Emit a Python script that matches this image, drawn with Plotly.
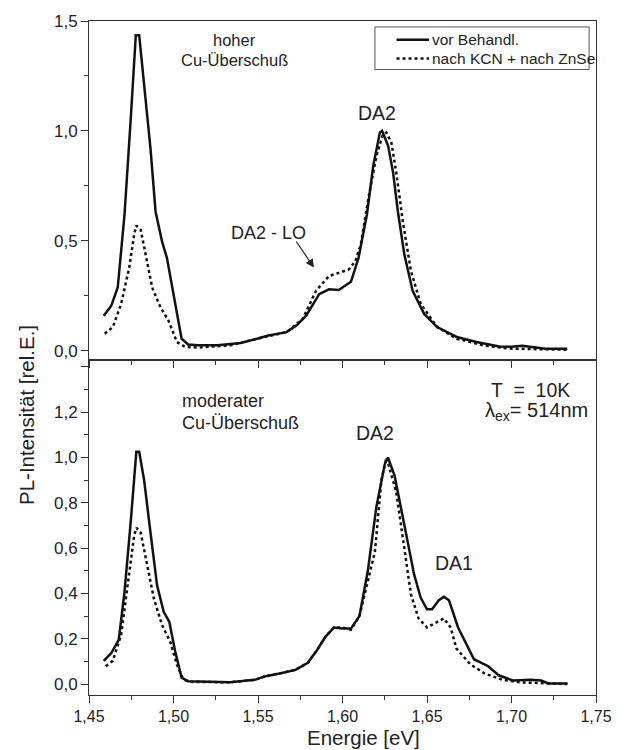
import plotly.graph_objects as go

# ---------------- data ----------------
# top panel: "hoher Cu-Überschuß"
top_vor_E = [1.4587, 1.4632, 1.4670, 1.4710, 1.4748, 1.4777, 1.4797, 1.4826, 1.4864, 1.4894,
             1.4932, 1.4961, 1.5010, 1.5048, 1.5087, 1.5145, 1.5262, 1.5397, 1.5494, 1.5562,
             1.5669, 1.5727, 1.5785, 1.5862, 1.5920, 1.5978, 1.6050, 1.6095, 1.6144, 1.6182,
             1.6221, 1.6234, 1.6270, 1.6299, 1.6328, 1.6366, 1.6415, 1.6483, 1.6560, 1.6676,
             1.6793, 1.6928, 1.7000, 1.7064, 1.7120, 1.7200, 1.7330]
top_vor_I = [0.159, 0.204, 0.287, 0.617, 1.067, 1.435, 1.435, 1.218, 0.918, 0.632,
             0.497, 0.422, 0.212, 0.054, 0.028, 0.024, 0.024, 0.035, 0.054, 0.069,
             0.084, 0.114, 0.159, 0.257, 0.279, 0.276, 0.313, 0.422, 0.617, 0.842,
             0.992, 1.000, 0.932, 0.812, 0.632, 0.437, 0.272, 0.167, 0.107, 0.062,
             0.039, 0.019, 0.017, 0.022, 0.016, 0.008, 0.008]

top_nach_E = [1.4593, 1.4641, 1.4690, 1.4738, 1.4767, 1.4780, 1.4806, 1.4835, 1.4874, 1.4923,
              1.4970, 1.5020, 1.5068, 1.5145, 1.5337, 1.5494, 1.5669, 1.5765, 1.5843, 1.5920,
              1.6037, 1.6076, 1.6108, 1.6153, 1.6201, 1.6240, 1.6260, 1.6289, 1.6318, 1.6357,
              1.6405, 1.6463, 1.6560, 1.6676, 1.6831, 1.6986, 1.7150, 1.7330]
top_nach_I = [0.077, 0.107, 0.212, 0.377, 0.527, 0.569, 0.550, 0.437, 0.287, 0.197,
              0.137, 0.039, 0.017, 0.014, 0.024, 0.054, 0.084, 0.144, 0.272, 0.339,
              0.369, 0.407, 0.482, 0.692, 0.887, 0.985, 0.992, 0.947, 0.812, 0.587,
              0.362, 0.212, 0.107, 0.054, 0.024, 0.009, 0.006, 0.004]

# bottom panel: "moderater Cu-Überschuß"
bot_vor_E = [1.4587, 1.4632, 1.4676, 1.4710, 1.4748, 1.4767, 1.4780, 1.4797, 1.4826, 1.4864,
             1.4903, 1.4942, 1.4975, 1.5010, 1.5048, 1.5087, 1.5260, 1.5335, 1.5481, 1.5544,
             1.5628, 1.5722, 1.5795, 1.5848, 1.5900, 1.5950, 1.6000, 1.6050, 1.6100, 1.6150,
             1.6200, 1.6250, 1.6269, 1.6308, 1.6347, 1.6386, 1.6424, 1.6463, 1.6500, 1.6530,
             1.6570, 1.6600, 1.6630, 1.6684, 1.6778, 1.6862, 1.6924, 1.7008, 1.7113, 1.7176,
             1.7218, 1.7332]
bot_vor_I = [0.103, 0.137, 0.195, 0.406, 0.726, 0.923, 1.025, 1.025, 0.901, 0.668,
             0.435, 0.319, 0.275, 0.144, 0.028, 0.013, 0.010, 0.008, 0.019, 0.035,
             0.047, 0.063, 0.094, 0.149, 0.210, 0.250, 0.245, 0.245, 0.300, 0.500,
             0.780, 0.970, 1.000, 0.920, 0.774, 0.629, 0.483, 0.381, 0.330, 0.330,
             0.370, 0.385, 0.370, 0.250, 0.110, 0.079, 0.039, 0.016, 0.019, 0.016,
             0.003, 0.003]

bot_nach_E = [1.4599, 1.4641, 1.4690, 1.4738, 1.4767, 1.4780, 1.4806, 1.4845, 1.4884, 1.4932,
              1.4980, 1.5020, 1.5058, 1.5106, 1.5335, 1.5481, 1.5544, 1.5628, 1.5722, 1.5795,
              1.5848, 1.5900, 1.5950, 1.6000, 1.6050, 1.6100, 1.6150, 1.6192, 1.6230, 1.6260,
              1.6318, 1.6347, 1.6376, 1.6405, 1.6450, 1.6500, 1.6550, 1.6600, 1.6640, 1.6674,
              1.6757, 1.6841, 1.6945, 1.7050, 1.7330]
bot_nach_I = [0.079, 0.103, 0.217, 0.493, 0.654, 0.690, 0.668, 0.523, 0.377, 0.261,
              0.188, 0.086, 0.020, 0.010, 0.008, 0.019, 0.035, 0.047, 0.063, 0.094,
              0.149, 0.210, 0.250, 0.250, 0.240, 0.300, 0.450, 0.585, 0.900, 1.000,
              0.847, 0.700, 0.556, 0.396, 0.290, 0.250, 0.270, 0.290, 0.250, 0.157,
              0.087, 0.047, 0.019, 0.008, 0.000]

series_names = ["vor Behandl.", "nach KCN + nach ZnSe"]
x_tickvals = [1.45, 1.50, 1.55, 1.60, 1.65, 1.70, 1.75]
top_tickvals = [0.0, 0.5, 1.0, 1.5]
bot_tickvals = [0.0, 0.2, 0.4, 0.6, 0.8, 1.0, 1.2, 1.4]
bot_ticktext = ["0,0", "0,2", "0,4", "0,6", "0,8", "1,0", "1,2", " "]

# ---------------- figure ----------------
LINE = "#111111"
AXC = "#333333"
TXT = "#222222"
FONT = "Arial, Liberation Sans, sans-serif"
PL, PR, PT, PB = 89, 605, 14, 695   # plot-area pixel box (for paper coords)
PW, PH = PR - PL, PB - PT

def px(xp):
    return (xp - PL) / PW

def py(yp):
    return (PB - yp) / PH

fig = go.Figure()
fig.add_trace(go.Scatter(x=top_vor_E, y=top_vor_I, mode="lines", name=series_names[0],
                         line=dict(color=LINE, width=2.5), xaxis="x2", yaxis="y2"))
fig.add_trace(go.Scatter(x=top_nach_E, y=top_nach_I, mode="lines", name=series_names[1],
                         line=dict(color=LINE, width=2.5, dash="dot"), xaxis="x2", yaxis="y2"))
fig.add_trace(go.Scatter(x=bot_vor_E, y=bot_vor_I, mode="lines", name=series_names[0],
                         line=dict(color=LINE, width=2.5), xaxis="x", yaxis="y"))
fig.add_trace(go.Scatter(x=bot_nach_E, y=bot_nach_I, mode="lines", name=series_names[1],
                         line=dict(color=LINE, width=2.5, dash="dot"), xaxis="x", yaxis="y"))

split = (PB - 357) / PH
common_axis = dict(showline=True, linecolor=AXC, linewidth=1, mirror=True, showgrid=False,
                   zeroline=False, ticks="outside", tickcolor=AXC, ticklen=7, tickwidth=1)

fig.update_layout(
    width=624, height=750,
    margin=dict(l=PL, r=624 - PR, t=PT, b=750 - PB),
    plot_bgcolor="white", paper_bgcolor="white",
    separators=",.",
    font=dict(family=FONT, color=TXT),
    showlegend=False,
    xaxis=dict(**common_axis, range=[1.45, 1.75], tickvals=x_tickvals, tickformat=".2f",
               tickfont=dict(family=FONT, size=16, color=TXT),
               minor=dict(dtick=0.025, tick0=1.45, ticks="outside", ticklen=4, tickcolor=AXC),
               domain=[0, 1], anchor="y"),
    xaxis2=dict(**common_axis, range=[1.45, 1.75], tickvals=x_tickvals, showticklabels=False,
                minor=dict(dtick=0.025, tick0=1.45, ticks="outside", ticklen=4, tickcolor=AXC),
                domain=[0, 1], anchor="y2", matches="x"),
    yaxis=dict(**common_axis, range=[-0.048, 1.428], tickvals=bot_tickvals, ticktext=bot_ticktext,
               tickfont=dict(family=FONT, size=17, color=TXT),
               minor=dict(dtick=0.1, tick0=0, ticks="outside", ticklen=4, tickcolor=AXC),
               domain=[0, split], anchor="x"),
    yaxis2=dict(**common_axis, range=[-0.045, 1.5], tickvals=top_tickvals, tickformat=".1f",
                tickfont=dict(family=FONT, size=17, color=TXT),
                minor=dict(dtick=0.25, tick0=0, ticks="outside", ticklen=4, tickcolor=AXC),
                domain=[split, 1], anchor="x2"),
)

ann = []
def txt(x, y, s, xref="x", yref="y", size=16, xanchor="center", **kw):
    ann.append(dict(x=x, y=y, xref=xref, yref=yref, text=s, showarrow=False,
                    xanchor=xanchor, yanchor="middle",
                    font=dict(family=FONT, size=size, color=TXT), **kw))

# top panel labels
txt(1.536, 1.414, "hoher", "x2", "y2", size=16.5)
txt(1.536, 1.322, "Cu-Überschuß", "x2", "y2", size=16.5)
txt(1.6203, 1.081, "DA2", "x2", "y2", size=19.5)
txt(1.5564, 0.535, "DA2 - LO", "x2", "y2", size=18)
ann.append(dict(x=1.5831, y=0.378, xref="x2", yref="y2", text=" ", showarrow=True,
                ax=-19, ay=-28, arrowhead=2, arrowsize=1.4, arrowwidth=1.2, arrowcolor=TXT,
                font=dict(size=1)))

# bottom panel labels
txt(1.504, 1.249, "moderater", size=18, xanchor="left")
txt(1.504, 1.153, "Cu-Überschuß", size=18, xanchor="left")
txt(1.6192, 1.11, "DA2", size=19.5)
txt(1.6657, 0.533, "DA1", size=19.5)
txt(1.7111, 1.297, "T  =  10K", size=19.5)
txt(1.7147, 1.205, "λ<sub>ex</sub>= 514nm", size=20)

# manual legend (box, line samples, labels)
shapes = [
    dict(type="rect", xref="paper", yref="paper", x0=px(380), x1=px(598), y0=py(63), y1=py(20),
         line=dict(color="#555555", width=1), fillcolor="white", layer="above"),
    dict(type="line", xref="paper", yref="paper", x0=px(402), x1=px(435), y0=py(33), y1=py(33),
         line=dict(color=LINE, width=2.5), layer="above"),
    dict(type="line", xref="paper", yref="paper", x0=px(402), x1=px(435), y0=py(52), y1=py(52),
         line=dict(color=LINE, width=2.5, dash="dot"), layer="above"),
]
for row_y, name in zip([33, 52], series_names):
    ann.append(dict(x=px(436), y=py(row_y), xref="paper", yref="paper", text=name,
                    showarrow=False, xanchor="left", yanchor="middle",
                    font=dict(family=FONT, size=15.5, color=TXT)))

# axis titles
ann.append(dict(x=px(26), y=py(412), xref="paper", yref="paper", text="PL-Intensität [rel.E.]",
                showarrow=False, textangle=-90, xanchor="center", yanchor="middle",
                font=dict(family=FONT, size=20.5, color=TXT)))
ann.append(dict(x=px(368), y=py(738), xref="paper", yref="paper",
                text="Energie [eV]", showarrow=False, xanchor="center", yanchor="middle",
                font=dict(family=FONT, size=20.5, color=TXT)))

fig.update_layout(annotations=ann, shapes=shapes)
fig.write_html("out.html")
